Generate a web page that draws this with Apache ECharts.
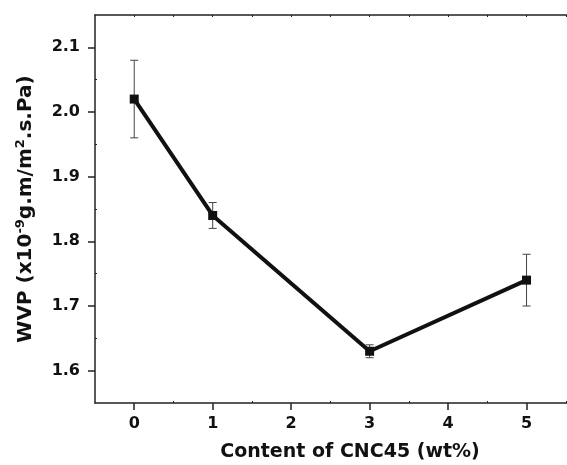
<!DOCTYPE html>
<html>
<head>
<meta charset="utf-8">
<script src="https://cdn.jsdelivr.net/npm/echarts@6/dist/echarts.min.js"></script>
<style>
  html, body { margin: 0; padding: 0; background: #fff; }
  #main { width: 567px; height: 465px; }
</style>
</head>
<body>
<div id="main"></div>
<script>
// CNC45 content (wt%) and WVP values
const contents = [0, 1, 3, 5];
const wvp = [2.02, 1.84, 1.63, 1.74];
const errUpper = [2.08, 1.86, 1.64, 1.78];
const errLower = [1.96, 1.82, 1.62, 1.70];

const xTicks = [0, 1, 2, 3, 4, 5];
const xMinorTicks = [0.5, 1.5, 2.5, 3.5, 4.5, 5.5];
const xTopTicks = [0, 0.5, 1, 1.5, 2, 2.5, 3, 3.5, 4, 4.5, 5, 5.5];
const yTicks = [1.6, 1.7, 1.8, 1.9, 2.0, 2.1];
const yMinorTicks = [1.65, 1.75, 1.85, 1.95, 2.05];

const myChart = echarts.init(document.getElementById("main"));
const font = "DejaVu Sans";
const axisColor = "#222";

let option = {
  animation: false,
  grid: {
    left: 95,
    top: 15,
    right: -38,
    bottom: 62,
    containLabel: false,
    outerBoundsMode: "none",
  },
  xAxis: [
    {
      type: "value",
      position: "bottom",
      min: -0.5,
      max: 6,
      axisLine: { show: true, onZero: false, lineStyle: { color: axisColor, width: 1.5 } },
      axisTick: { show: true, customValues: xTicks, length: 7, lineStyle: { color: axisColor, width: 1.5 } },
      axisLabel: {
        customValues: xTicks,
        margin: 13,
        color: "#111",
        fontFamily: font,
        fontWeight: "bold",
        fontSize: 16,
      },
      splitLine: { show: false },
      name: "Content of CNC45 (wt%)",
      nameLocation: "middle",
      nameGap: 40,
      nameTextStyle: { color: "#111", fontFamily: font, fontWeight: "bold", fontSize: 19 },
    },
    {
      // minor ticks on the bottom
      type: "value",
      position: "bottom",
      min: -0.5,
      max: 6,
      axisLine: { show: false, onZero: false },
      axisTick: { show: true, inside: true, customValues: xMinorTicks, length: 2, lineStyle: { color: axisColor } },
      axisLabel: { show: false },
      splitLine: { show: false },
    },
    {
      // top frame
      type: "value",
      position: "top",
      min: -0.5,
      max: 6,
      axisLine: { show: true, onZero: false, lineStyle: { color: axisColor, width: 1.5 } },
      axisTick: { show: true, inside: true, customValues: xTopTicks, length: 2, lineStyle: { color: axisColor } },
      axisLabel: { show: false },
      splitLine: { show: false },
    },
  ],
  yAxis: [
    {
      type: "value",
      position: "left",
      min: 1.55,
      max: 2.15,
      axisLine: { show: true, onZero: false, lineStyle: { color: axisColor, width: 1.5 } },
      axisTick: { show: true, customValues: yTicks, length: 7, lineStyle: { color: axisColor, width: 1.5 } },
      axisLabel: {
        customValues: yTicks,
        margin: 15,
        color: "#111",
        fontFamily: font,
        fontWeight: "bold",
        fontSize: 16,
        formatter: function (v) {
          return v.toFixed(1);
        },
      },
      splitLine: { show: false },
      name: "{a|WVP (x10}{s|-9}{a|g.m/m}{s|2}{a|.s.Pa)}",
      nameLocation: "middle",
      nameGap: 57,
      nameTextStyle: {
        rich: {
          a: { color: "#111", fontFamily: font, fontWeight: "bold", fontSize: 20, lineHeight: 24 },
          s: { color: "#111", fontFamily: font, fontWeight: "bold", fontSize: 13, lineHeight: 24, verticalAlign: "top" },
        },
      },
    },
    {
      // minor ticks on the left
      type: "value",
      position: "left",
      min: 1.55,
      max: 2.15,
      axisLine: { show: false, onZero: false },
      axisTick: { show: true, inside: true, customValues: yMinorTicks, length: 2, lineStyle: { color: axisColor } },
      axisLabel: { show: false },
      splitLine: { show: false },
    },
  ],
  series: [
    {
      name: "error",
      type: "custom",
      xAxisIndex: 0,
      yAxisIndex: 0,
      z: 1,
      data: contents.map((c, i) => [c, errLower[i], errUpper[i]]),
      renderItem: function (params, api) {
        const x = api.value(0);
        const lo = api.coord([x, api.value(1)]);
        const hi = api.coord([x, api.value(2)]);
        const half = 4;
        const style = { stroke: "#444", lineWidth: 1 };
        return {
          type: "group",
          children: [
            { type: "line", shape: { x1: lo[0], y1: lo[1], x2: hi[0], y2: hi[1] }, style: style },
            { type: "line", shape: { x1: hi[0] - half, y1: hi[1], x2: hi[0] + half, y2: hi[1] }, style: style },
            { type: "line", shape: { x1: lo[0] - half, y1: lo[1], x2: lo[0] + half, y2: lo[1] }, style: style },
          ],
        };
      },
    },
    {
      name: "WVP",
      type: "line",
      xAxisIndex: 0,
      yAxisIndex: 0,
      z: 2,
      data: contents.map((c, i) => [c, wvp[i]]),
      symbol: "rect",
      symbolSize: 9,
      showSymbol: true,
      lineStyle: { color: "#111", width: 4 },
      itemStyle: { color: "#111" },
    },
  ],
};

option && myChart.setOption(option);

window.addEventListener("resize", function () {
  myChart.resize();
});
</script>
</body>
</html>
